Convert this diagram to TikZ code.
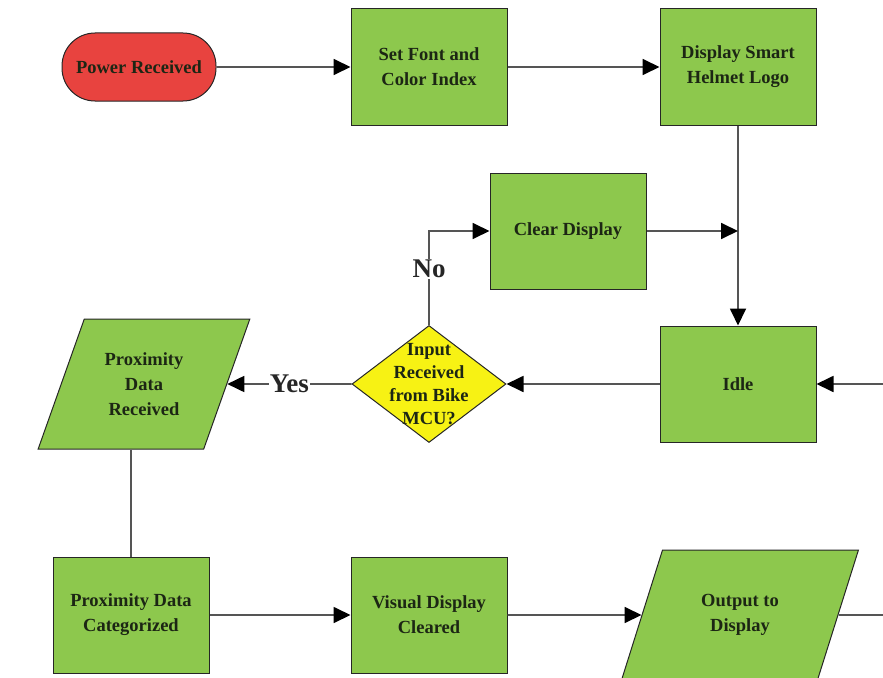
\documentclass[tikz,border=0pt]{standalone}
\usepackage{fontspec}
\setmainfont{Liberation Serif}
\usetikzlibrary{shapes.geometric,arrows.meta}
\definecolor{boxgreen}{HTML}{8DC84D}
\definecolor{startred}{HTML}{E8433F}
\definecolor{decyellow}{HTML}{F7F214}
\definecolor{linegray}{HTML}{555555}
\definecolor{txt}{HTML}{1C2614}
\begin{document}
\begin{tikzpicture}[x=1pt,y=-1pt,
  lbl/.style={font=\fontsize{18.5}{25}\selectfont\bfseries, text=txt, align=center},
  shapeline/.style={draw=black!85, line width=1pt},
  box/.style={lbl, shapeline, fill=boxgreen, minimum width=156pt, minimum height=116pt, inner sep=2pt},
  startstop/.style={lbl, shapeline, fill=startred, minimum width=154pt, minimum height=68pt, rounded corners=33pt},
  decision/.style={shapeline, fill=decyellow, diamond, minimum width=154pt, minimum height=117pt, inner sep=0pt},
  iobox/.style={lbl, shapeline, fill=boxgreen, trapezium, trapezium stretches=true,
    trapezium left angle=64.5, trapezium right angle=115.5, minimum height=130pt, inner sep=2pt},
  flow/.style={draw=linegray, line width=1.8pt, -{Triangle[length=17pt,width=16pt,color=black]}},
  plain/.style={draw=linegray, line width=1.8pt},
  tag/.style={font=\fontsize{27}{30}\selectfont\bfseries, text=black!85, fill=white, inner sep=1pt}
]
\useasboundingbox (0,0) rectangle (883,677);

% top row
\node[startstop] (power) at (139,67) {Power Received};
\node[box] (font) at (429,67) {Set Font and\\Color Index};
\node[box] (logo) at (738,67) {Display Smart\\Helmet Logo};

% middle section
\node[box] (clear) at (568,231) {Clear Display};
\node[box] (idle) at (738,384) {Idle};
\node[decision] (dec) at (429,384) {};
\node[lbl, font=\fontsize{18.5}{23}\selectfont\bfseries] (dectext) at (dec.center) {Input\\Received\\from Bike\\MCU?};
\node[iobox, minimum width=212pt] (pdr) at (144,384) {Proximity\\Data\\Received};

% bottom row
\node[box] (cat) at (131,615) {Proximity Data\\Categorized};
\node[box] (vis) at (429,615) {Visual Display\\Cleared};
\node[iobox, minimum width=237pt] (out) at (740,615) {Output to\\Display};

% loose ends at the right border
\coordinate (inR) at (883,384);
\coordinate (outR) at (883,615);

% connectors
\draw[flow] (power) -- (font);
\draw[flow] (font) -- (logo);
\draw[flow] (logo.south) -- (idle.north);
\draw[flow] (clear.east) -- (clear.east -| logo.south);
\draw[flow] (inR) -- (idle.east);
\draw[flow] (idle.west) -- (dec.east);
\draw[flow] (dec.north) |- (clear.west) node[tag, pos=0.3] {No};
\draw[flow] (dec.west) -- (pdr.east) node[tag, midway] {Yes};
\draw[plain] (pdr.south -| cat.north) -- (cat.north);
\draw[flow] (cat) -- (vis);
\draw[flow] (vis.east) -- (out.west);
\draw[plain] (out.east) -- (outR);
\end{tikzpicture}
\end{document}
